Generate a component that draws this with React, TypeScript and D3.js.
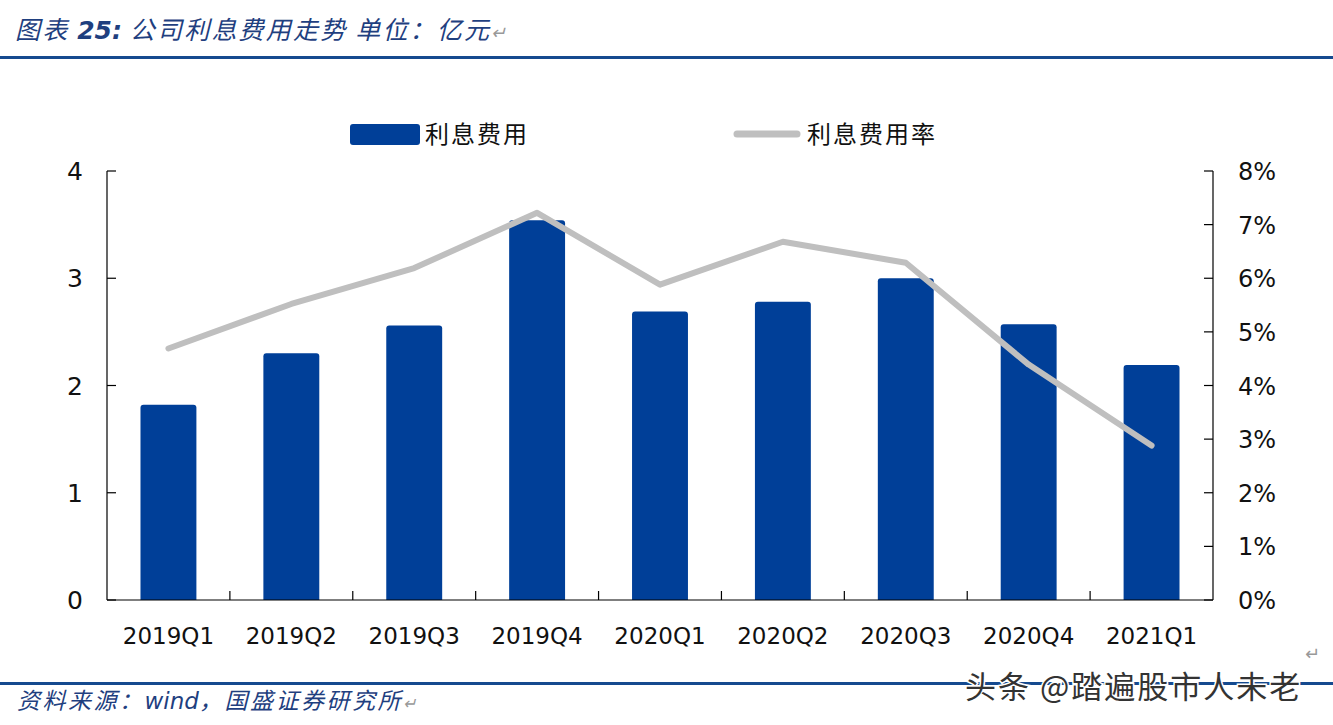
import React from 'react';
import * as d3 from 'd3';

const quarters = ['2019Q1', '2019Q2', '2019Q3', '2019Q4', '2020Q1', '2020Q2', '2020Q3', '2020Q4', '2021Q1'];
const interestExpense = [1.82, 2.3, 2.56, 3.54, 2.69, 2.78, 3.0, 2.57, 2.19];
const interestRate = [4.69, 5.52, 6.19, 7.22, 5.88, 6.68, 6.29, 4.39, 2.88];
const leftTicks = [0, 1, 2, 3, 4];
const rightTicks = [0, 1, 2, 3, 4, 5, 6, 7, 8];

const W = 1333;
const H = 725;
const margin = { left: 107, right: 120, top: 171, bottom: 125 };
const barColor = '#003F98';
const lineColor = '#BFBFBF';
const ruleColor = '#154a8f';
const font = '"DejaVu Sans", Verdana, sans-serif';
const cjk = '"Noto Sans CJK SC", sans-serif';

const App: React.FC = () => {
  const x = d3.scaleBand<string>().domain(quarters).range([margin.left, W - margin.right]).paddingInner(0.545).paddingOuter(0.2725);
  const step = x.step();
  const y = d3.scaleLinear().domain([0, 4]).range([H - margin.bottom, margin.top]);
  const y2 = d3.scaleLinear().domain([0, 8]).range([H - margin.bottom, margin.top]);
  const x0 = margin.left;
  const x1 = W - margin.right;
  const yb = H - margin.bottom;

  const line = d3.line<number>()
    .x((_, i) => (x(quarters[i]) as number) + x.bandwidth() / 2)
    .y(d => y2(d));

  return (
    <svg width={W} height={H} viewBox={`0 0 ${W} ${H}`} style={{ position: 'absolute', left: 0, top: 0, background: '#fff' }}>
      {/* header */}
      <text x={15} y={39} fontFamily={cjk} fontStyle="italic" fontSize={25} letterSpacing={2.2} fill="#1f3f7f">
        图表 <tspan fontFamily={font} fontWeight="bold" letterSpacing={0}>25:</tspan> 公司利息费用走势 单位：亿元
        <tspan fill="#999" fontSize={18}>↵</tspan>
      </text>
      <rect x={0} y={56} width={W} height={3} fill={ruleColor} />

      {/* legend */}
      <rect x={350} y={124} width={70} height={21} rx={3} fill={barColor} />
      <text x={425} y={143} fontFamily={cjk} fontSize={24} letterSpacing={2} fill="#111">利息费用</text>
      <line x1={737} y1={134} x2={797} y2={134} stroke={lineColor} strokeWidth={7} strokeLinecap="round" />
      <text x={807} y={143} fontFamily={cjk} fontSize={24} letterSpacing={2} fill="#111">利息费用率</text>

      {/* bars */}
      {interestExpense.map((v, i) => (
        <path key={quarters[i]}
          d={`M${x(quarters[i])},${y(0)}V${y(v) + 3}q0,-3 3,-3H${(x(quarters[i]) as number) + x.bandwidth() - 3}q3,0 3,3V${y(0)}Z`}
          fill={barColor} />
      ))}

      {/* line */}
      <path d={line(interestRate) || ''} fill="none" stroke={lineColor} strokeWidth={6} strokeLinecap="round" strokeLinejoin="round" />

      {/* axes */}
      <line x1={x0} y1={margin.top} x2={x0} y2={yb} stroke="#000" strokeWidth={1.2} />
      {leftTicks.map(t => (
        <g key={t}>
          <line x1={x0} x2={x0 + 9} y1={y(t)} y2={y(t)} stroke="#000" strokeWidth={1.2} />
          <text x={83} y={y(t) + 9} textAnchor="end" fontFamily={font} fontSize={25} fill="#111">{t}</text>
        </g>
      ))}
      <line x1={x1} y1={margin.top} x2={x1} y2={yb} stroke="#000" strokeWidth={1.2} />
      {rightTicks.map(t => (
        <g key={t}>
          <line x1={x1 - 9} x2={x1} y1={y2(t)} y2={y2(t)} stroke="#000" strokeWidth={1.2} />
          <text x={1238} y={y2(t) + 9} fontFamily={font} fontSize={24} fill="#111">{t}%</text>
        </g>
      ))}
      <line x1={x0} y1={yb} x2={x1} y2={yb} stroke="#000" strokeWidth={1.2} />
      {quarters.map((q, i) => (
        <g key={q}>
          {i > 0 && <line x1={x0 + step * i} x2={x0 + step * i} y1={yb} y2={yb - 9} stroke="#000" strokeWidth={1.2} />}
          <text x={(x(q) as number) + x.bandwidth() / 2} y={644} textAnchor="middle" fontFamily={font} fontSize={23} fill="#111">{q}</text>
        </g>
      ))}
      <text x={1305} y={660} fontFamily={font} fontSize={18} fill="#999">↵</text>

      {/* footer */}
      <rect x={0} y={682} width={W} height={3} fill={ruleColor} />
      <text x={17} y={709} fontFamily={cjk} fontStyle="italic" fontSize={23} letterSpacing={2.5} fill="#1f3f7f">
        资料来源：<tspan fontFamily={font} letterSpacing={0}>wind</tspan>，国盛证券研究所<tspan fill="#999" fontSize={16}>↵</tspan>
      </text>
      <text x={965} y={698} fontFamily={cjk} fontSize={31} letterSpacing={2} fill="#333" stroke="#fff" strokeWidth={3} paintOrder="stroke">头条 @踏遍股市人未老</text>
    </svg>
  );
};

export default App;
